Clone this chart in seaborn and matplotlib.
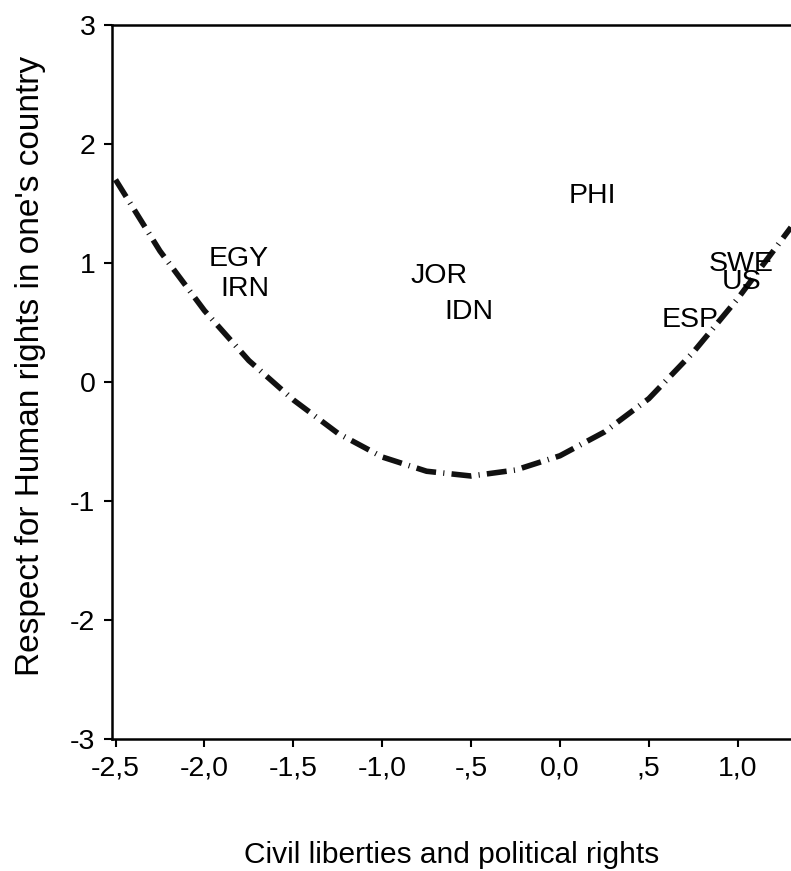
import matplotlib
matplotlib.use("Agg")
import matplotlib.pyplot as plt
import pandas as pd
import seaborn as sns

# ----------------------------------------------------------
# Data
# ----------------------------------------------------------

countries = ["EGY", "IRN", "JOR", "IDN", "PHI", "ESP", "SWE", "US"]
civil_rights = [-1.81, -1.77, -0.68, -0.51, 0.18, 0.73, 1.02, 1.02]
human_rights = [1.03, 0.78, 0.89, 0.59, 1.56, 0.52, 0.99, 0.84]

fit_x = [-2.5, -2.25, -2.0, -1.75, -1.5, -1.25, -1.0, -0.75, -0.5,
         -0.25, 0.0, 0.25, 0.5, 0.75, 1.0, 1.3]
fit_y = [1.70, 1.10, 0.60, 0.18, -0.15, -0.43, -0.63, -0.75, -0.79,
         -0.74, -0.62, -0.42, -0.14, 0.25, 0.70, 1.30]

x_ticks = [-2.5, -2.0, -1.5, -1.0, -0.5, 0.0, 0.5, 1.0]
x_tick_labels = ["-2,5", "-2,0", "-1,5", "-1,0", "-,5", "0,0", ",5", "1,0"]
y_ticks = [-3, -2, -1, 0, 1, 2, 3]

points = pd.DataFrame({"country": countries, "x": civil_rights, "y": human_rights})
curve = pd.DataFrame({"x": fit_x, "y": fit_y})

sns.set_style("ticks")
plt.rcParams["font.family"] = ["Liberation Sans", "DejaVu Sans"]
plt.rcParams["text.color"] = "black"
plt.rcParams["axes.labelcolor"] = "black"
plt.rcParams["xtick.color"] = "black"
plt.rcParams["ytick.color"] = "black"

fig = plt.figure(figsize=(7.91, 8.71), dpi=100)
ax = fig.add_axes([112 / 791, 1 - 739 / 871, 1 - 112 / 791, (739 - 25) / 871])

sns.lineplot(data=curve, x="x", y="y", ax=ax, color="#111111",
             linewidth=4.0, dashes=False, sort=True)
ax.lines[0].set_dashes((3.6, 1.3, 0.2, 1.3))

for _, row in points.iterrows():
    ax.text(row["x"], row["y"], row["country"], fontsize=20.5,
            ha="center", va="center", color="black")

ax.set_xlim(-2.52, 1.30)
ax.set_ylim(-3.0, 3.0)
ax.set_xticks(x_ticks)
ax.set_xticklabels(x_tick_labels)
ax.set_yticks(y_ticks)
ax.set_yticklabels([str(v) for v in y_ticks])
ax.tick_params(labelsize=20.5, length=6, width=1.5, direction="out",
               color="black", labelcolor="black", pad=6)

for side in ["left", "bottom", "top"]:
    ax.spines[side].set_linewidth(1.8)
    ax.spines[side].set_color("black")
ax.spines["right"].set_visible(False)

ax.set_xlabel("Civil liberties and political rights", fontsize=21.5,
              labelpad=43, color="black")
ax.set_ylabel("Respect for Human rights in one's country", fontsize=24,
              color="black")
ax.yaxis.set_label_coords(-0.097, 0.522)

fig.savefig("out.png", dpi=100)
